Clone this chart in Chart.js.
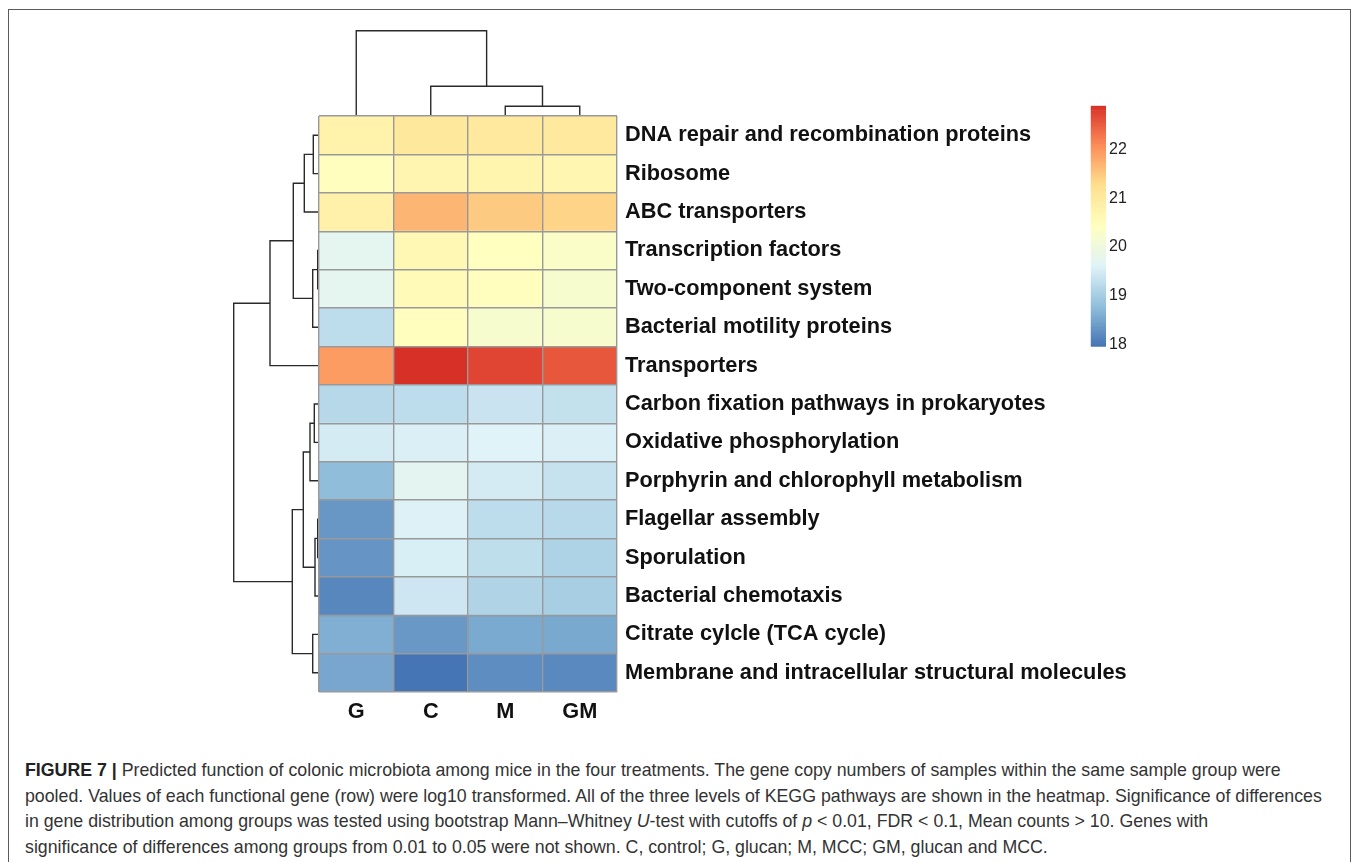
<!DOCTYPE html>
<html>
<head>
<meta charset="utf-8">
<script src="https://cdn.jsdelivr.net/npm/chart.js@4.4.1/dist/chart.umd.min.js"></script>
<style>
  body { margin: 0; background: #fff; width: 1358px; height: 862px; overflow: hidden; position: relative; }
  .frame { position: absolute; left: 8px; top: 9px; width: 1343px; height: 900px; border: 1.5px solid #5a5a5a; box-sizing: border-box; }
  canvas { position: absolute; }
  #colDendro { left: 300px; top: 20px; }
  #rowDendro { left: 220px; top: 110px; }
  #heat { left: 300px; top: 86px; }
  #legendBar { left: 1080px; top: 91px; }
  .caption { position: absolute; left: 25px; top: 758px; font-family: "Liberation Sans", Arial, sans-serif; font-size: 17.75px; line-height: 25.7px; color: #333; white-space: nowrap; }
  .caption b { color: #222; }
</style>
</head>
<body>
<div class="frame"></div>
<canvas id="colDendro" width="340" height="110"></canvas>
<canvas id="rowDendro" width="110" height="590"></canvas>
<canvas id="heat" width="900" height="664"></canvas>
<canvas id="legendBar" width="70" height="269"></canvas>
<div class="caption">
  <b>FIGURE 7 |</b> Predicted function of colonic microbiota among mice in the four treatments. The gene copy numbers of samples within the same sample group were<br>
  pooled. Values of each functional gene (row) were log10 transformed. All of the three levels of KEGG pathways are shown in the heatmap. Significance of differences<br>
  in gene distribution among groups was tested using bootstrap Mann–Whitney <i>U</i>-test with cutoffs of <i>p</i> &lt; 0.01, FDR &lt; 0.1, Mean counts &gt; 10. Genes with<br>
  significance of differences among groups from 0.01 to 0.05 were not shown. C, control; G, glucan; M, MCC; GM, glucan and MCC.
</div>
<script>
const rowLabels = [
  'DNA repair and recombination proteins',
  'Ribosome',
  'ABC transporters',
  'Transcription factors',
  'Two-component system',
  'Bacterial motility proteins',
  'Transporters',
  'Carbon fixation pathways in prokaryotes',
  'Oxidative phosphorylation',
  'Porphyrin and chlorophyll metabolism',
  'Flagellar assembly',
  'Sporulation',
  'Bacterial chemotaxis',
  'Citrate cylcle (TCA cycle)',
  'Membrane and intracellular structural molecules'
];
const colLabels = ['G', 'C', 'M', 'GM'];

// log10 gene copy numbers, one array per group (rows in the order above)
const valuesG  = [20.75, 20.44, 20.80, 19.73, 19.73, 19.25, 21.94, 19.17, 19.48, 18.76, 18.33, 18.30, 18.15, 18.60, 18.50];
const valuesC  = [21.04, 20.68, 21.68, 20.62, 20.57, 20.45, 22.90, 19.25, 19.54, 19.70, 19.57, 19.53, 19.40, 18.34, 17.95];
const valuesM  = [21.00, 20.70, 21.47, 20.43, 20.44, 20.20, 22.71, 19.36, 19.60, 19.48, 19.25, 19.26, 19.10, 18.54, 18.22];
const valuesGM = [21.00, 20.66, 21.37, 20.30, 20.20, 20.20, 22.55, 19.30, 19.54, 19.33, 19.18, 19.08, 19.02, 18.53, 18.17];

// dendrograms, hclust style: [left, right, height]; negative = leaf (1-based), positive = earlier merge
const rowMerge = [
  [-4, -5, 0.13],
  [-11, -12, 0.13],
  [2, -13, 0.40],
  [-8, -9, 0.47],
  [-1, -2, 0.57],
  [1, -6, 0.63],
  [-14, -15, 0.63],
  [4, -10, 0.90],
  [5, -3, 1.47],
  [8, 3, 1.57],
  [9, 6, 2.57],
  [10, 7, 2.67],
  [11, -7, 4.90],
  [13, 12, 8.53]
];
const colMerge = [
  [-3, -4, 0.97],
  [-2, 1, 2.97],
  [-1, 2, 8.53]
];

const legendMin = 17.95;
const legendMax = 22.9;
const legendTicks = [18, 19, 20, 21, 22];
const palette = ['#4575B4', '#91BFDB', '#E0F3F8', '#FFFFBF', '#FEE090', '#FC8D59', '#D73027'];

const hexToRgb = h => [1, 3, 5].map(i => parseInt(h.slice(i, i + 2), 16));
const colorFor = v => {
  let t = (v - legendMin) / (legendMax - legendMin);
  t = Math.max(0, Math.min(1, t)) * (palette.length - 1);
  const i = Math.min(Math.floor(t), palette.length - 2);
  const f = t - i;
  const a = hexToRgb(palette[i]);
  const b = hexToRgb(palette[i + 1]);
  const c = a.map((x, k) => Math.round(x + (b[k] - x) * f));
  return `rgb(${c[0]}, ${c[1]}, ${c[2]})`;
};

// turn merge table into line segments (U shapes)
const dendroSegments = merge => {
  const pos = [];
  const hgt = [];
  const place = id => id < 0 ? [-id - 1, 0] : [pos[id - 1], hgt[id - 1]];
  return merge.map(([a, b, h]) => {
    const [pa, ha] = place(a);
    const [pb, hb] = place(b);
    pos.push((pa + pb) / 2);
    hgt.push(h);
    return [[pa, ha], [pa, h], [pb, h], [pb, hb]];
  });
};

const lineColor = '#2a2a2a';
const fontFamily = '"Liberation Sans", Arial, sans-serif';
const cellGrid = { offset: true, color: '#999', lineWidth: 1.4, drawTicks: false, z: 1 };

// heatmap
const groupValues = [valuesG, valuesC, valuesM, valuesGM];
new Chart(document.getElementById('heat'), {
  type: 'bar',
  data: {
    labels: rowLabels,
    datasets: groupValues.map((vals, c) => ({
      label: colLabels[c],
      data: vals.map(() => [c, c + 1]),
      backgroundColor: vals.map(colorFor),
      borderWidth: 0,
      grouped: false,
      barPercentage: 1,
      categoryPercentage: 1
    }))
  },
  options: {
    indexAxis: 'y',
    responsive: false,
    animation: false,
    layout: { padding: { left: 19, top: 30, right: 0, bottom: 0 } },
    scales: {
      x: {
        type: 'linear',
        min: 0,
        max: colLabels.length,
        afterBuildTicks: scale => { scale.ticks = colLabels.map((_, i) => ({ value: i + 0.5 })); },
        afterFit: scale => { scale.height = 58; },
        ticks: {
          callback: v => colLabels[Math.floor(v)],
          font: { family: fontFamily, size: 21.75, weight: 'bold' },
          color: '#111',
          padding: 7,
          maxRotation: 0
        },
        grid: cellGrid,
        border: { display: false }
      },
      y: {
        type: 'category',
        position: 'right',
        offset: true,
        afterFit: scale => { scale.width = 583; },
        ticks: {
          font: { family: fontFamily, size: 21.75, weight: 'bold' },
          color: '#111',
          padding: 8
        },
        grid: cellGrid,
        border: { display: false }
      }
    },
    plugins: { legend: { display: false }, tooltip: { enabled: false } }
  }
});

const dendroDatasets = merge => dendroSegments(merge).map(seg => ({
  data: seg.map(([p, h]) => ({ p, h })),
  showLine: true,
  pointRadius: 0,
  borderColor: lineColor,
  borderWidth: 1.4,
  tension: 0,
  clip: false
}));

// row dendrogram (left)
new Chart(document.getElementById('rowDendro'), {
  type: 'scatter',
  data: { datasets: dendroDatasets(rowMerge) },
  options: {
    responsive: false,
    animation: false,
    parsing: { xAxisKey: 'h', yAxisKey: 'p' },
    layout: { padding: { left: 13.7, right: 11, top: 6, bottom: 8 } },
    scales: {
      x: { type: 'linear', display: false, reverse: true, min: 0, max: rowMerge[rowMerge.length - 1][2] },
      y: { type: 'linear', display: false, reverse: true, min: -0.5, max: rowLabels.length - 0.5 }
    },
    plugins: { legend: { display: false }, tooltip: { enabled: false } }
  }
});

// column dendrogram (top)
new Chart(document.getElementById('colDendro'), {
  type: 'scatter',
  data: { datasets: dendroDatasets(colMerge) },
  options: {
    responsive: false,
    animation: false,
    parsing: { xAxisKey: 'p', yAxisKey: 'h' },
    layout: { padding: { left: 19, right: 23, top: 10.7, bottom: 14 } },
    scales: {
      x: { type: 'linear', display: false, min: -0.5, max: colLabels.length - 0.5 },
      y: { type: 'linear', display: false, min: 0, max: colMerge[colMerge.length - 1][2] }
    },
    plugins: { legend: { display: false }, tooltip: { enabled: false } }
  }
});

// colour key
const legendSteps = 100;
const stepSize = (legendMax - legendMin) / legendSteps;
const legendDatasets = [];
for (let i = 0; i < legendSteps; i++) {
  const lo = legendMin + i * stepSize;
  legendDatasets.push({
    data: [[lo, lo + stepSize * 1.02]],
    backgroundColor: colorFor(lo + stepSize / 2),
    borderWidth: 0,
    grouped: false,
    barPercentage: 1,
    categoryPercentage: 1
  });
}
new Chart(document.getElementById('legendBar'), {
  type: 'bar',
  data: { labels: [''], datasets: legendDatasets },
  options: {
    responsive: false,
    animation: false,
    layout: { padding: { left: 10.7, right: 0, top: 14.7, bottom: 13.3 } },
    scales: {
      x: { display: false },
      y: {
        type: 'linear',
        position: 'right',
        min: legendMin,
        max: legendMax,
        afterBuildTicks: scale => { scale.ticks = legendTicks.map(v => ({ value: v })); },
        afterFit: scale => { scale.width = 44; },
        ticks: { font: { family: fontFamily, size: 16 }, color: '#222', padding: 3 },
        grid: { display: false, drawTicks: false },
        border: { display: false }
      }
    },
    plugins: { legend: { display: false }, tooltip: { enabled: false } }
  }
});
</script>
</body>
</html>
